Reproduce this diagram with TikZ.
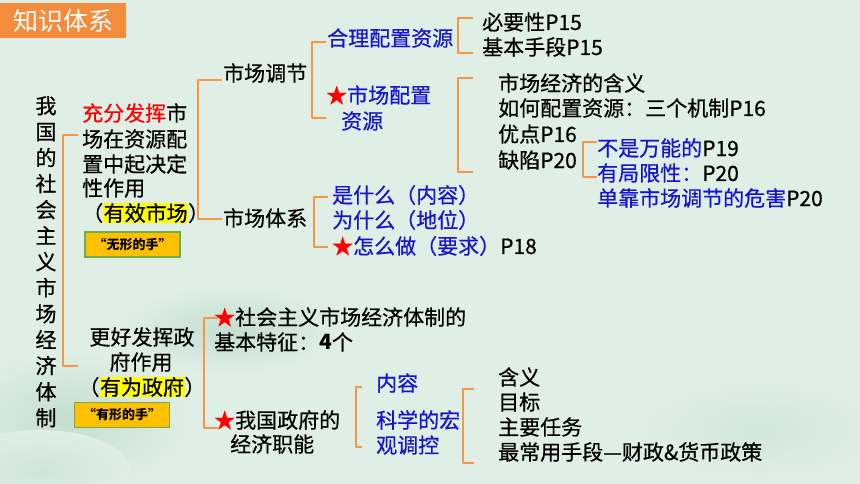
\documentclass[tikz,border=0pt]{standalone}
\usepackage{fontspec}
\setmainfont{Noto Sans CJK SC}[UprightFeatures={FakeBold=0.6}]
\newfontfamily\titlefont{Noto Sans CJK SC}
\usetikzlibrary{positioning}
\definecolor{bgc}{RGB}{224,239,230}
\definecolor{wash}{RGB}{196,222,208}
\definecolor{brkc}{RGB}{247,150,70}
\definecolor{titlec}{RGB}{243,140,60}
\definecolor{txtblue}{RGB}{20,20,210}
\definecolor{boxfill}{RGB}{255,192,0}
\definecolor{boxedge}{RGB}{112,173,71}
\definecolor{hl}{RGB}{255,255,0}
\newcommand{\hlt}[1]{{\setlength{\fboxsep}{0.5pt}\colorbox{hl}{#1}}}
\newcommand{\rstar}{\textcolor{red}{★}}
\newcommand{\bl}[1]{\textcolor{txtblue}{#1}}
\begin{document}
\begin{tikzpicture}[x=1pt,y=-1pt,
  txt/.style={inner sep=0pt,anchor=west,font=\fontsize{21}{25}\selectfont},
  ctxt/.style={inner sep=0pt,anchor=center,font=\fontsize{21}{25}\selectfont},
  brk/.style={draw=brkc,line width=2.6pt,line join=round},
  handbox/.style={draw=boxedge,line width=1.4pt,fill=boxfill,inner sep=0pt,
     minimum width=95pt,minimum height=25pt,font=\fontsize{13}{15}\selectfont\bfseries}]
\useasboundingbox (0,0) rectangle (860,484);
\fill[bgc] (0,0) rectangle (860,484);
% ink wash decoration
\shade[inner color=wash,outer color=bgc] (70,420) ellipse (120 and 70);
\shade[inner color=wash,outer color=bgc] (230,330) ellipse (110 and 45);
\shade[inner color=wash!60!bgc,outer color=bgc] (40,470) ellipse (90 and 40);
\shade[inner color=wash!50!bgc,outer color=bgc] (760,430) ellipse (120 and 50);

% title
\node[fill=titlec,minimum width=126pt,minimum height=35pt,inner sep=0pt,anchor=north west,
  text=white,font=\titlefont\fontsize{25}{27}\selectfont] (title) at (0,3) {知识体系};

% root vertical text
\node[inner sep=0pt,anchor=north,align=center,font=\fontsize{21}{26}\selectfont]
  (root) at (46,96) {我\\国\\的\\社\\会\\主\\义\\市\\场\\经\\济\\体\\制};

% bracket from root
\coordinate (b1t) at (78,135); \coordinate (b1b) at (78,366);
\draw[brk] (b1t) -- (63,135) -- (63,366) -- (b1b);

% market branch
\node[txt] (m1) at (82,113) {\textcolor{red}{充分发挥}市};
\node[txt] (m2) at (82,139) {场在资源配};
\node[txt] (m3) at (82,164) {置中起决定};
\node[txt] (m4) at (82,188) {性作用};
\node[txt] (m5) at (82,213) {（\hlt{有效市场}）};
\node[handbox] (wx) at (132.5,244.5) {“无形的手”};

\coordinate (b2t) at (222,80); \coordinate (b2b) at (222,219);
\draw[brk] (b2t) -- (198,80) -- (198,219) -- (b2b);
\node[txt] (tj) at (223,73) {市场调节};
\node[txt] (tx) at (223,218) {市场体系};

% 市场调节 bracket
\coordinate (b3t) at (326,42); \coordinate (b3b) at (326,118);
\draw[brk] (b3t) -- (312,42) -- (312,118) -- (b3b);
\node[txt] (hl1) at (327,38) {\bl{合理配置资源}};
\node[txt] (sc1) at (326,95) {\rstar\bl{市场配置}};
\node[txt] (sc2) at (341,121) {\bl{资源}};

\coordinate (b4t) at (473,18); \coordinate (b4b) at (473,53);
\draw[brk] (b4t) -- (458,18) -- (458,53) -- (b4b);
\node[txt] (by) at (482,22) {必要性P15};
\node[txt] (jb) at (482,47) {基本手段P15};

\coordinate (b5t) at (473,78); \coordinate (b5b) at (473,172);
\draw[brk] (b5t) -- (458,78) -- (458,172) -- (b5b);
\node[txt] (hy) at (498,83) {市场经济的含义};
\node[txt] (rh) at (498,108) {如何配置资源：三个机制P16};
\node[txt] (yd) at (498,134) {优点P16};
\node[txt] (qx) at (498,160) {缺陷P20};

\coordinate (b6t) at (597,142); \coordinate (b6b) at (597,177);
\draw[brk] (b6t) -- (583,142) -- (583,177) -- (b6b);
\node[txt] (bs) at (597,148) {\bl{不是万能的}P19};
\node[txt] (yj) at (597,173) {\bl{有局限性：}P20};
\node[txt] (dk) at (597,198) {\bl{单靠市场调节的危害}P20};

% 市场体系 bracket
\coordinate (b7t) at (328,197); \coordinate (b7b) at (328,247);
\draw[brk] (b7t) -- (314,197) -- (314,247) -- (b7b);
\node[txt] (ss) at (332,195) {\bl{是什么（内容）}};
\node[txt] (ws) at (332,220) {\bl{为什么（地位）}};
\node[txt] (zm) at (332,246) {\rstar\bl{怎么做（要求）}P18};

% government branch
\node[ctxt] (g1) at (142,337) {更好发挥政};
\node[ctxt] (g2) at (141,362) {府作用};
\node[ctxt] (g3) at (142,387) {（\hlt{有为政府}）};
\node[handbox] (yx) at (122,415) {“有形的手”};

\coordinate (b8t) at (218,318); \coordinate (b8b) at (218,428);
\draw[brk] (b8t) -- (204,318) -- (204,428) -- (b8b);
\node[txt] (sh1) at (214,317) {\rstar 社会主义市场经济体制的};
\node[txt] (sh2) at (214,342) {基本特征：\textbf{4}个};
\node[txt] (zf1) at (214,420) {\rstar 我国政府的};
\node[txt] (zf2) at (230,444) {经济职能};

\coordinate (b9t) at (362,387); \coordinate (b9b) at (362,447);
\draw[brk] (b9t) -- (356,387) -- (356,447) -- (b9b);
\node[txt] (nr) at (376,383) {\bl{内容}};
\node[txt] (kx1) at (376,420) {\bl{科学的宏}};
\node[txt] (kx2) at (376,445) {\bl{观调控}};

\coordinate (b10t) at (474,389); \coordinate (b10b) at (474,463);
\draw[brk] (b10t) -- (463,389) -- (463,463) -- (b10b);
\node[txt] (hy2) at (498,377) {含义};
\node[txt] (mb) at (498,402) {目标};
\node[txt] (zy) at (498,427) {主要任务};
\node[txt] (zc) at (498,452) {最常用手段—财政\&货币政策};
\end{tikzpicture}
\end{document}
